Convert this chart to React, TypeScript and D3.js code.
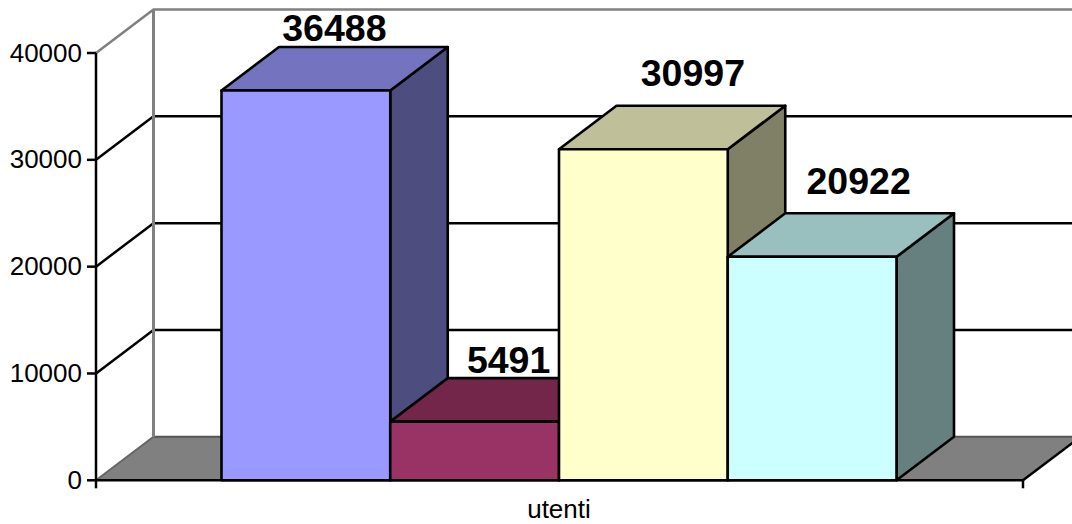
import React from "react";
import * as d3 from "d3";

const seriesNames = ["A", "B", "C", "D"];
const seriesValues = [36488, 5491, 30997, 20922];
const frontColors = ["#9999ff", "#993366", "#ffffcc", "#ccffff"];
const topColors = ["#7373bf", "#732649", "#bfbf99", "#99bfbf"];
const sideColors = ["#4d4d80", "#4d1a33", "#808066", "#668080"];
const yTicks = [0, 10000, 20000, 30000, 40000];
const categoryLabel = "utenti";

const W = 1072, H = 524;
const dx = 57.5, dy = -43.5;
const x0 = 96, x1 = 1023;
const y = d3.scaleLinear().domain([0, 40000]).range([480.3, 53]);
const x = d3.scaleBand<string>().domain(seriesNames).range([221.5, 896.5]).padding(0);
const FONT = "'Liberation Sans', Arial, sans-serif";
const poly = (pts: [number, number][]) => d3.line()(pts) + "Z";
// label placement relative to the top-back edge of each bar
const labelDx = [28.5, 34, 49.5, 46.5];
const labelDy = [-6, -5, -19.5, -19.5];

export default function App() {
  const bw = x.bandwidth();
  const yTop = y(40000), yBase = y(0);
  return (
    <svg width={W} height={H} viewBox={`0 0 ${W} ${H}`} style={{ position: "absolute", left: 0, top: 0, background: "#fff" }}>
      {/* back wall gridlines */}
      {yTicks.slice(1, 4).map((t) => (
        <path key={t} d={d3.line()([[x0, y(t)], [x0 + dx, y(t) + dy], [x1 + dx, y(t) + dy]]) as string} fill="none" stroke="#000" strokeWidth={2.5} />
      ))}
      {/* floor */}
      <path d={poly([[x0, yBase], [x0 + dx, yBase + dy], [x1 + dx, yBase + dy], [x1, yBase]])} fill="#808080" stroke="none" />
      <path d={d3.line()([[x0 + dx, yBase + dy], [x1 + dx, yBase + dy]]) as string} stroke="#555" strokeWidth={2} fill="none" />
      <path d={d3.line()([[x0, yBase], [x0 + dx, yBase + dy]]) as string} stroke="#666" strokeWidth={2} fill="none" />
      <path d={d3.line()([[x1, yBase], [x1 + dx, yBase + dy]]) as string} stroke="#000" strokeWidth={2.5} fill="none" />
      {/* walls outline */}
      <path d={d3.line()([[x0, yTop], [x0 + dx, yTop + dy], [x1 + dx + 60, yTop + dy]]) as string} fill="none" stroke="#808080" strokeWidth={2.5} />
      <path d={d3.line()([[x0 + dx, yTop + dy], [x0 + dx, yBase + dy]]) as string} fill="none" stroke="#808080" strokeWidth={3} />
      {/* bars */}
      {seriesNames.map((s, i) => {
        const l = x(s) as number, r = l + bw, t = y(seriesValues[i]), b = yBase;
        return (
          <g key={s} stroke="#000" strokeWidth={2.6} strokeLinejoin="round">
            <path d={poly([[r, t], [r + dx, t + dy], [r + dx, b + dy], [r, b]])} fill={sideColors[i]} />
            <path d={poly([[l, t], [l + dx, t + dy], [r + dx, t + dy], [r, t]])} fill={topColors[i]} />
            <path d={poly([[l, t], [r, t], [r, b], [l, b]])} fill={frontColors[i]} />
          </g>
        );
      })}
      {/* axes */}
      <path d={d3.line()([[x0, yTop], [x0, yBase]]) as string} stroke="#000" strokeWidth={2.5} fill="none" />
      <path d={d3.line()([[x0, yBase], [x1, yBase]]) as string} stroke="#000" strokeWidth={2.5} fill="none" />
      <path d={d3.line()([[x0, yBase], [x0, yBase + 8]]) as string} stroke="#000" strokeWidth={2.5} fill="none" />
      <path d={d3.line()([[x1, yBase], [x1, yBase + 8]]) as string} stroke="#000" strokeWidth={2.5} fill="none" />
      {yTicks.map((t) => (
        <g key={t}>
          <path d={d3.line()([[x0 - 9, y(t)], [x0, y(t)]]) as string} stroke="#000" strokeWidth={2.5} fill="none" />
          <text x={82} y={y(t) + 8.5} textAnchor="end" fontFamily={FONT} fontSize={26} fill="#000">{t}</text>
        </g>
      ))}
      <text x={559} y={518} textAnchor="middle" fontFamily={FONT} fontSize={26} fill="#000">{categoryLabel}</text>
      {/* value labels */}
      {seriesNames.map((s, i) => (
        <text key={s} x={(x(s) as number) + bw / 2 + labelDx[i]} y={y(seriesValues[i]) + dy + labelDy[i]} textAnchor="middle" fontFamily={FONT} fontWeight="bold" fontSize={37.5} fill="#000">{seriesValues[i]}</text>
      ))}
    </svg>
  );
}
